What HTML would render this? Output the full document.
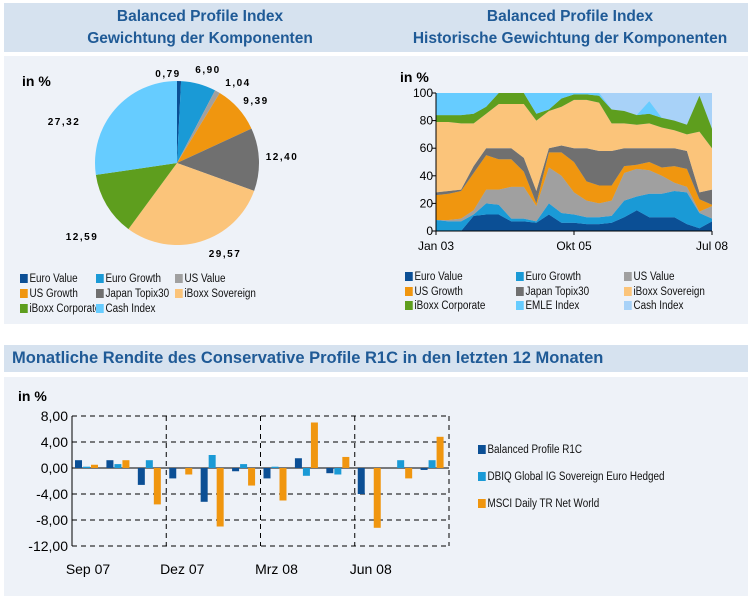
<!DOCTYPE html>
<html><head><meta charset="utf-8"><style>
body{margin:0;width:752px;height:596px;background:#fff;font-family:"Liberation Sans",sans-serif;position:relative;overflow:hidden}
.abs{position:absolute}
.hdr{background:#d6e2ef;color:#1f5a96;font-weight:bold}
.panel{background:#eef2f8}
.t{font-weight:bold;font-size:15.5px;text-align:center;line-height:22px}
.leg{font-size:11.5px;color:#111;position:absolute;white-space:nowrap;transform:scaleX(0.86);transform-origin:0 0}
.leg i{display:inline-block;width:9px;height:9px;margin-right:2px;vertical-align:-1px}
</style></head><body>
<div class="abs hdr" style="left:4px;top:3px;width:744px;height:49px"></div>
<div class="abs t" style="left:0;top:6px;width:400px;color:#1f5a96">Balanced Profile Index<br>Gewichtung der Komponenten</div>
<div class="abs t" style="left:385px;top:6px;width:370px;color:#1f5a96">Balanced Profile Index<br>Historische Gewichtung der Komponenten</div>
<div class="abs panel" style="left:4px;top:56px;width:744px;height:268px"></div>
<div class="abs hdr" style="left:4px;top:345px;width:744px;height:27px;font-size:16.5px;line-height:27px;padding-left:8px;box-sizing:border-box">Monatliche Rendite des Conservative Profile R1C in den letzten 12 Monaten</div>
<div class="abs panel" style="left:4px;top:377px;width:744px;height:219px"></div>

<svg class="abs" style="left:0;top:0" width="752" height="596" id="svg">
<text x="22" y="86" font-size="14" font-weight="bold">in %</text>
<text x="400" y="82" font-size="14" font-weight="bold">in %</text>
<text x="18" y="401" font-size="14" font-weight="bold">in %</text>
<g id="pie"></g><g id="area"></g><g id="bars"></g>
</svg>

<div class="leg" style="left:20px;top:273px"><i style="background:#0b4f95"></i>Euro Value</div>
<div class="leg" style="left:96px;top:273px"><i style="background:#1a9ad6"></i>Euro Growth</div>
<div class="leg" style="left:175px;top:273px"><i style="background:#a0a0a0"></i>US Value</div>
<div class="leg" style="left:20px;top:288px"><i style="background:#f0960f"></i>US Growth</div>
<div class="leg" style="left:96px;top:288px"><i style="background:#707070"></i>Japan Topix30</div>
<div class="leg" style="left:175px;top:288px"><i style="background:#fbc47a"></i>iBoxx Sovereign</div>
<div class="leg" style="left:20px;top:303px"><i style="background:#5e9e1e"></i>iBoxx Corporate</div>
<div class="leg" style="left:96px;top:303px"><i style="background:#66ccff"></i>Cash Index</div>

<div class="leg" style="left:405px;top:271px"><i style="background:#0b4f95"></i>Euro Value</div>
<div class="leg" style="left:516px;top:271px"><i style="background:#1a9ad6"></i>Euro Growth</div>
<div class="leg" style="left:624px;top:271px"><i style="background:#a0a0a0"></i>US Value</div>
<div class="leg" style="left:405px;top:286px"><i style="background:#f0960f"></i>US Growth</div>
<div class="leg" style="left:516px;top:286px"><i style="background:#707070"></i>Japan Topix30</div>
<div class="leg" style="left:624px;top:286px"><i style="background:#fbc47a"></i>iBoxx Sovereign</div>
<div class="leg" style="left:405px;top:300px"><i style="background:#5e9e1e"></i>iBoxx Corporate</div>
<div class="leg" style="left:516px;top:300px"><i style="background:#66ccff"></i>EMLE Index</div>
<div class="leg" style="left:624px;top:300px"><i style="background:#a8d2f8"></i>Cash Index</div>

<div class="leg" style="left:478px;top:444px"><i style="background:#0b4f95"></i>Balanced Profile R1C</div>
<div class="leg" style="left:478px;top:471px"><i style="background:#1a9ad6"></i>DBIQ Global IG Sovereign Euro Hedged</div>
<div class="leg" style="left:478px;top:498px"><i style="background:#f0960f"></i>MSCI Daily TR Net World</div>

<script>
const pieLabels=["0,79","6,90","1,04","9,39","12,40","29,57","12,59","27,32"];
const pieValues=[0.79,6.90,1.04,9.39,12.40,29.57,12.59,27.32];
const pieColors=["#0b4f95","#1a9ad6","#a0a0a0","#f0960f","#707070","#fbc47a","#5e9e1e","#66ccff"];

const areaMonths=[0,3,6,9,12,15,18,21,24,27,30,33,36,39,42,45,48,51,54,57,60,63,66];
const euroValue=[0,0,0,11,12,12,7,7,6,12,6,6,5,5,6,10,15,10,10,10,5,2,7];
const euroGrowth=[8,7,7,1,8,7,2,2,1,8,7,6,5,5,5,12,10,17,17,19,23,11,2];
const usValue=[0,1,2,3,10,11,23,23,11,26,27,16,12,10,11,20,20,17,13,6,4,1,9];
const usGrowth=[18,19,20,27,25,22,20,11,2,11,17,22,14,13,11,5,3,6,6,12,13,9,1];
const japan=[2,2,1,5,5,8,8,10,9,3,5,10,24,25,25,13,12,10,14,13,13,5,11];
const sovereign=[51,50,48,31,25,32,32,39,51,27,28,35,35,35,20,18,17,18,15,13,12,44,30];
const corporate=[5,5,6,7,5,8,8,8,5,1,6,4,4,5,10,9,7,7,7,7,7,26,14];
const emle=[16,16,16,15,10,0,0,0,15,12,4,1,1,2,0,0,0,9,0,0,0,0,0];
const areaTicks=[0,20,40,60,80,100];
const areaXLabels=[["Jan 03",0],["Okt 05",33],["Jul 08",66]];

const months=["Sep 07","Dez 07","Mrz 08","Jun 08"];
const r1c=[1.2,1.2,-2.6,-1.6,-5.2,-0.5,-1.6,1.5,-0.8,-4.0,0,-0.3];
const dbiq=[0.2,0.6,1.2,0,2.0,0.6,0.2,-1.2,-1.0,0,1.2,1.2];
const msci=[0.5,1.2,-5.6,-1.0,-9.0,-2.7,-5.0,7.0,1.7,-9.2,-1.6,4.8];
const barTicks=[8,4,0,-4,-8,-12];
const barTickLabels=["8,00","4,00","0,00","-4,00","-8,00","-12,00"];

const NS="http://www.w3.org/2000/svg";
function mk(p,tag,a){const e=document.createElementNS(NS,tag);for(const k in a)e.setAttribute(k,a[k]);p.appendChild(e);return e;}

// PIE
const pie=document.getElementById('pie');
const cx=177,cy=163,R=82,total=pieValues.reduce((a,b)=>a+b,0);
const lblPos=[[168,77],[208,73],[238,86],[256,104],[282,160],[225,257],[82,240],[64,125]];
let ang=-Math.PI/2;
pieValues.forEach((v,i)=>{
  const a2=ang+v/total*2*Math.PI;
  const x1=cx+R*Math.cos(ang),y1=cy+R*Math.sin(ang),x2=cx+R*Math.cos(a2),y2=cy+R*Math.sin(a2);
  const s=mk(pie,'path',{d:`M${cx},${cy}L${x1},${y1}A${R},${R} 0 ${a2-ang>Math.PI?1:0} 1 ${x2},${y2}Z`,fill:pieColors[i]});
  
  
  const t=mk(pie,'text',{x:lblPos[i][0],y:lblPos[i][1],'font-size':10,'font-weight':'bold','text-anchor':'middle','letter-spacing':'1.5'});
  t.textContent=pieLabels[i];
  
  
  ang=a2;
});

// AREA
const area=document.getElementById('area');
const ax0=436,ax1=712,ay0=231,ay1=93;
const X=m=>ax0+(m-areaMonths[0])/(areaMonths[areaMonths.length-1]-areaMonths[0])*(ax1-ax0);
const Y=v=>ay0-v/100*(ay0-ay1);
mk(area,'rect',{x:ax0,y:ay1,width:ax1-ax0,height:ay0-ay1,fill:'#a8d2f8'});
const layers=[euroValue,euroGrowth,usValue,usGrowth,japan,sovereign,corporate,emle];
const lcol=["#0b4f95","#1a9ad6","#a0a0a0","#f0960f","#707070","#fbc47a","#5e9e1e","#66ccff"];
let base=areaMonths.map(()=>0);
layers.forEach((L,li)=>{
  const top=base.map((b,i)=>Math.min(100,b+L[i]));
  let d='M'+areaMonths.map((m,i)=>X(m)+','+Y(top[i])).join('L');
  for(let i=areaMonths.length-1;i>=0;i--)d+='L'+X(areaMonths[i])+','+Y(base[i]);
  const p=mk(area,'path',{d:d+'Z',fill:lcol[li]});
  
  
  base=top;
});
mk(area,'line',{x1:ax0,y1:ay1,x2:ax0,y2:ay0,stroke:'#000'});
mk(area,'line',{x1:ax0,y1:ay0,x2:ax1,y2:ay0,stroke:'#000'});
areaTicks.forEach(v=>{
  mk(area,'line',{x1:ax0-4,y1:Y(v),x2:ax0,y2:Y(v),stroke:'#000'});
  const t=mk(area,'text',{x:ax0-3,y:Y(v)+4,'font-size':12,'text-anchor':'end'});t.textContent=v;
  
  
});
areaXLabels.forEach(([s,m])=>{
  mk(area,'line',{x1:X(m),y1:ay0,x2:X(m),y2:ay0+4,stroke:'#000'});
  const t=mk(area,'text',{x:X(m),y:ay0+19,'font-size':12,'text-anchor':'middle'});t.textContent=s;
  
  
});

// BARS
const bars=document.getElementById('bars');
const bx0=72,bx1=449,vmax=8,vmin=-12,by1=416,by0=546;
const BY=v=>by1+(vmax-v)/(vmax-vmin)*(by0-by1);
const gw=(bx1-bx0)/r1c.length;
barTicks.forEach((v,i)=>{
  mk(bars,'line',{x1:bx0,y1:BY(v),x2:bx1,y2:BY(v),stroke:'#000','stroke-dasharray':v===0?'':'5,4','stroke-width':1});
  const t=mk(bars,'text',{x:bx0-4,y:BY(v)+5,'font-size':14,'text-anchor':'end'});t.textContent=barTickLabels[i];
  
  
});
for(let k=0;k<=4;k++){const x=bx0+k*3*gw;mk(bars,'line',{x1:x,y1:by1,x2:x,y2:by0,stroke:'#000','stroke-dasharray':k===0?'':'5,4'});}
months.forEach((s,k)=>{
  const t=mk(bars,'text',{x:bx0+k*3*gw+16,y:574,'font-size':14,'text-anchor':'middle'});t.textContent=s;
  
  
});
[r1c,dbiq,msci].forEach((S,si)=>{
  S.forEach((v,i)=>{
    const x=bx0+i*gw+3+si*8;
    const r=mk(bars,'rect',{x:x,y:Math.min(BY(v),BY(0)),width:7,height:Math.abs(BY(v)-BY(0)),fill:lcol[[0,1,3][si]]});
    
    
  });
});
</script>
</body></html>
